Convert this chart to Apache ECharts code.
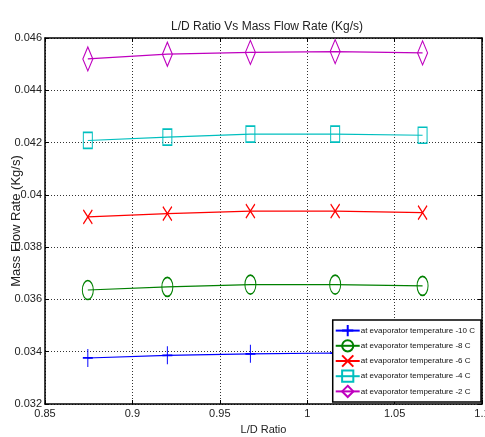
<!DOCTYPE html>
<html>
<head>
<meta charset="utf-8">
<script src="https://cdn.jsdelivr.net/npm/echarts@6/dist/echarts.min.js"></script>
<style>
  html, body { margin: 0; padding: 0; background: #fff; }
  #myChart { width: 485px; height: 437px; }
</style>
</head>
<body>
<div id="myChart"></div>
<script>
// L/D ratio values (x)
var ldRatio = [0.8745, 0.920, 0.9675, 1.016, 1.066];
// mass flow rate (kg/s) per evaporator temperature
var temp10 = [0.03376, 0.03386, 0.03392, 0.03395, 0.03393];
var temp8 = [0.03636, 0.03648, 0.03657, 0.03657, 0.03652];
var temp6 = [0.03916, 0.03928, 0.03938, 0.03938, 0.03932];
var temp4 = [0.04208, 0.04221, 0.04232, 0.04232, 0.04228];
var temp2 = [0.04520, 0.04538, 0.04545, 0.04548, 0.04543];
var seriesNames = [
  "at evaporator temperature -10 C",
  "at evaporator temperature -8 C",
  "at evaporator temperature -6 C",
  "at evaporator temperature -4 C",
  "at evaporator temperature -2 C"
];

var font = "'Liberation Sans Narrow', 'Liberation Sans', Arial, sans-serif";

function pairs(ys) {
  return ldRatio.map(function (x, i) { return [x, ys[i]]; });
}

function makeSeries(name, ys, color, symbol, size, fill) {
  return {
    name: name,
    type: "line",
    data: pairs(ys),
    symbol: symbol,
    symbolSize: size,
    showAllSymbol: true,
    lineStyle: { color: color, width: 1.2 },
    itemStyle: { color: fill, borderColor: color, borderWidth: 1.3 },
    emphasis: { disabled: true },
    z: 3
  };
}

var myChart = echarts.init(document.getElementById("myChart"));
var option = {
  backgroundColor: "#fff",
  animation: false,
  title: {
    text: "L/D Ratio Vs Mass Flow Rate (Kg/s)",
    left: 262,
    textAlign: "center",
    top: 16,
    textStyle: { fontSize: 12, fontWeight: "normal", color: "#222", fontFamily: font }
  },
  legend: {
    data: seriesNames,
    orient: "vertical",
    right: 4,
    bottom: 35,
    itemWidth: 24,
    itemHeight: 14,
    itemGap: 2,
    padding: [4, 6, 4, 2],
    backgroundColor: "#fff",
    borderColor: "#000",
    borderWidth: 1.5,
    textStyle: { fontSize: 8, color: "#111", fontFamily: font, padding: [0, 0, 0, -4] },
    z: 10
  },
  grid: { left: 45, right: 3, top: 38, bottom: 33, containLabel: false, outerBoundsMode: "none" },
  xAxis: [
    {
      type: "value",
      min: 0.85,
      max: 1.1,
      interval: 0.05,
      name: "L/D Ratio",
      nameLocation: "middle",
      nameGap: 20,
      nameMoveOverlap: false,
      nameTextStyle: { fontSize: 11, color: "#222", fontFamily: font },
      axisLine: { lineStyle: { color: "#000", width: 1.5 } },
      axisTick: { inside: true, length: 4, lineStyle: { color: "#000" } },
      axisLabel: {
        fontSize: 11, color: "#222", fontFamily: font, margin: 4,
        formatter: function (v) { return String(+v.toFixed(2)); }
      },
      splitLine: { show: true, lineStyle: { color: "#333", type: [1, 2], width: 1 } }
    },
    {
      type: "value",
      position: "top",
      min: 0.85,
      max: 1.1,
      interval: 0.05,
      axisLine: { lineStyle: { color: "#000", width: 1.5 } },
      axisTick: { inside: true, length: 4, lineStyle: { color: "#000" } },
      axisLabel: { show: false },
      splitLine: { show: false }
    }
  ],
  yAxis: [
    {
      type: "value",
      min: 0.032,
      max: 0.046,
      interval: 0.002,
      name: "Mass Flow Rate (Kg/s)",
      nameLocation: "middle",
      nameGap: 22,
      nameMoveOverlap: false,
      nameTextStyle: { fontSize: 13, color: "#222", fontFamily: font },
      axisLine: { lineStyle: { color: "#000", width: 1.5 } },
      axisTick: { inside: true, length: 4, lineStyle: { color: "#000" } },
      axisLabel: {
        fontSize: 11, color: "#222", fontFamily: font, margin: 3,
        formatter: function (v) { return String(+v.toFixed(3)); }
      },
      splitLine: { show: true, lineStyle: { color: "#333", type: [1, 2], width: 1 } }
    },
    {
      type: "value",
      position: "right",
      min: 0.032,
      max: 0.046,
      interval: 0.002,
      axisLine: { lineStyle: { color: "#000", width: 1.5 } },
      axisTick: { inside: true, length: 4, lineStyle: { color: "#000" } },
      axisLabel: { show: false },
      splitLine: { show: false }
    }
  ],
  series: [
    makeSeries(seriesNames[0], temp10, "#0000ff", "path://M5,0L5,18M0,9L10,9", [10, 18], "#0000ff"),
    makeSeries(seriesNames[1], temp8, "#008000", "circle", [11, 19], "rgba(0,0,0,0)"),
    makeSeries(seriesNames[2], temp6, "#ff0000", "path://M0,0L9,14M9,0L0,14", [9, 14], "#ff0000"),
    makeSeries(seriesNames[3], temp4, "#00bfbf", "rect", [9, 16], "rgba(0,0,0,0)"),
    makeSeries(seriesNames[4], temp2, "#bf00bf", "diamond", [10, 24], "rgba(0,0,0,0)")
  ]
};
myChart.setOption(option);
</script>
</body>
</html>
